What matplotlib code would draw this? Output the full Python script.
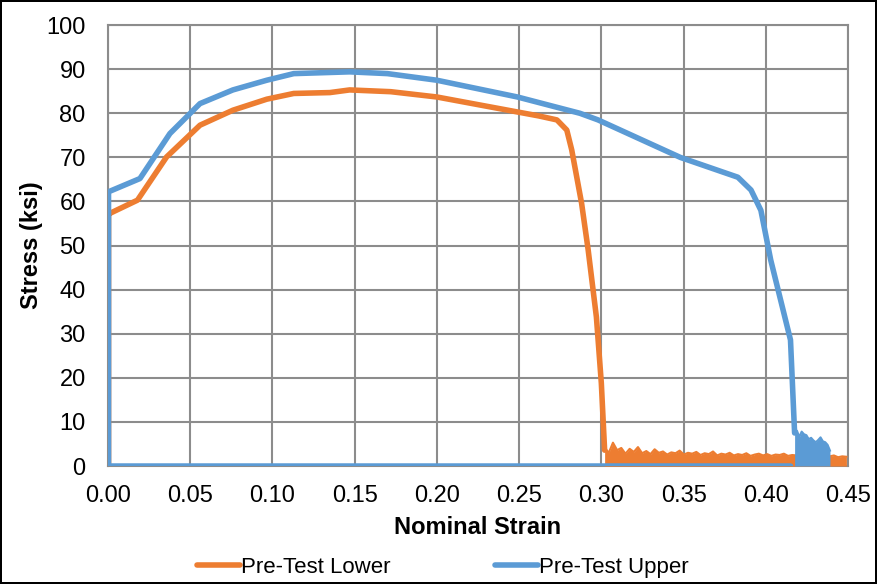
import numpy as np
import matplotlib
matplotlib.use("Agg")
import matplotlib.pyplot as plt

plt.rcParams['font.family'] = ['Liberation Sans', 'DejaVu Sans']

# ---- data ----
lower_strain = [0.0004, 0.0004, 0.0012, 0.018, 0.0357, 0.056, 0.076, 0.0966, 0.113,
                0.135, 0.147, 0.172, 0.200, 0.249, 0.262, 0.273, 0.279, 0.282,
                0.288, 0.292, 0.297, 0.300, 0.302]
lower_stress = [0.0, 57.0, 57.3, 60.3, 70.1, 77.3, 80.7, 83.2, 84.5,
                84.7, 85.3, 84.9, 83.7, 80.3, 79.4, 78.5, 76.2, 71.7,
                59.6, 49.0, 33.8, 18.8, 3.6]
lower_tail_stress = [4.2, 3.0, 5.3, 3.6, 4.1, 2.8, 3.9, 3.2, 4.3, 2.9, 3.4, 2.7, 3.8,
                     3.0, 3.3, 2.6, 3.1, 2.9, 3.5, 2.6, 3.0, 2.8, 3.2, 2.5, 2.9, 2.7,
                     3.3, 2.4, 2.8, 2.6, 3.0, 2.4, 2.7, 2.5, 2.9, 2.3, 2.6, 2.8, 2.4,
                     2.7, 2.3, 2.6, 2.5, 2.8, 2.3, 2.5, 2.4, 2.6, 2.2, 2.5, 2.3, 2.4,
                     2.1, 2.3, 2.2, 2.4, 2.0, 2.2, 2.1]
lower_tail_range = (0.302, 0.449)

upper_strain = [0.415, 0.0004, 0.0004, 0.0195, 0.0377, 0.056, 0.076, 0.0966, 0.113,
                0.147, 0.170, 0.200, 0.249, 0.287, 0.298, 0.348, 0.383,
                0.391, 0.397, 0.403, 0.415, 0.4175]
upper_stress = [0.0, 0.0, 62.2, 65.2, 75.4, 82.2, 85.3, 87.5, 89.0,
                89.4, 89.0, 87.5, 83.7, 80.0, 78.5, 70.0, 65.5,
                62.6, 58.0, 46.7, 28.6, 7.5]
upper_tail_stress = [7.5, 8.0, 6.6, 7.8, 7.2, 7.0, 6.1, 6.4, 5.8, 5.4, 5.9, 6.5,
                     5.6, 5.4, 4.8, 3.5]
upper_tail_range = (0.4175, 0.439)

xticks = [0.00, 0.05, 0.10, 0.15, 0.20, 0.25, 0.30, 0.35, 0.40, 0.45]
yticks = list(range(0, 101, 10))

ORANGE = '#ED7D31'
BLUE = '#5B9BD5'
GRID = '#8C8C8C'

fig = plt.figure(figsize=(8.77, 5.84), dpi=100)
fig.patch.set_edgecolor('black')
fig.patch.set_linewidth(1.5)
ax = fig.add_axes([0.123, 0.202, 0.844, 0.755])

# Lower
lx = np.linspace(*lower_tail_range, len(lower_tail_stress))
ax.plot(lower_strain, lower_stress, color=ORANGE, lw=4, solid_joinstyle='round',
        solid_capstyle='round', label='Pre-Test Lower', zorder=3)
ax.fill_between(lx, 0, lower_tail_stress, color=ORANGE, lw=0, zorder=3)
ax.plot(lx, lower_tail_stress, color=ORANGE, lw=1.5, zorder=3)

# Upper
ux = np.linspace(*upper_tail_range, len(upper_tail_stress))
ax.plot(upper_strain, upper_stress, color=BLUE, lw=4, solid_joinstyle='round',
        solid_capstyle='round', label='Pre-Test Upper', zorder=4)
ax.fill_between(ux, 0, upper_tail_stress, color=BLUE, lw=0, zorder=4)
ax.plot(ux, upper_tail_stress, color=BLUE, lw=1.5, zorder=4)

ax.set_xlim(0, 0.45)
ax.set_ylim(0, 100)
ax.set_xticks(xticks)
ax.set_xticklabels([f'{v:.2f}' for v in xticks])
ax.set_yticks(yticks)
ax.grid(True, color=GRID, lw=1.5)
ax.set_axisbelow(True)
for s in ax.spines.values():
    s.set_color(GRID)
    s.set_linewidth(1.5)
ax.tick_params(axis='x', length=0, labelsize=17, pad=14, colors='black')
ax.tick_params(axis='y', length=0, labelsize=17, pad=16, colors='black')

ax.set_xlabel('Nominal Strain', fontsize=17, fontweight='bold', labelpad=6)
ax.set_ylabel('Stress (ksi)', fontsize=17, fontweight='bold', labelpad=2)

fig.legend(*ax.get_legend_handles_labels(), loc='center',
           bbox_to_anchor=(0.505, 0.029), ncol=2, frameon=False,
           fontsize=16, handlelength=1.95, columnspacing=4.7, handletextpad=0.05,
           borderpad=0, borderaxespad=0)

fig.savefig('out.png', dpi=100)
